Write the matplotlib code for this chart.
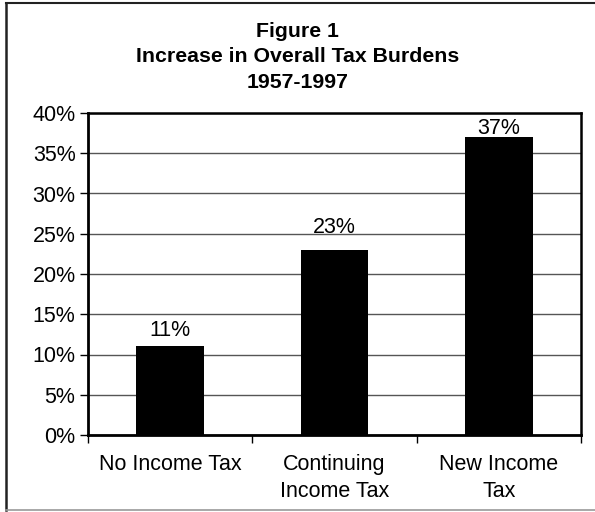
import matplotlib.pyplot as plt
from matplotlib.lines import Line2D

plt.rcParams['font.family'] = ['Liberation Sans', 'DejaVu Sans']

categories = ['No Income Tax', 'Continuing\nIncome Tax', 'New Income\nTax']
increase = [11, 23, 37]
y_ticks = [0, 5, 10, 15, 20, 25, 30, 35, 40]

# gap (px) between bar top and its value label
label_gap = [10, 17, 3]

W, H = 595, 512
fig = plt.figure(figsize=(W / 100, H / 100), dpi=100)
fs = 15.5

# plot area in pixel terms
left, right, top, bottom = 88, 581, 113, 435
ax = fig.add_axes([left / W, 1 - bottom / H, (right - left) / W, (bottom - top) / H])

x = range(len(categories))
ax.bar(x, increase, width=0.41, color='black', zorder=3)
for xi, v, g in zip(x, increase, label_gap):
    ax.annotate(f'{v}%', (xi, v), xytext=(0, g), textcoords='offset pixels',
                ha='center', va='baseline', fontsize=fs, zorder=4)

ax.set_xlim(-0.5, len(categories) - 0.5)
ax.set_ylim(0, 40)
ax.set_yticks(y_ticks)
ax.set_yticklabels([f'{t}%' for t in y_ticks], fontsize=fs)
ax.yaxis.grid(True, color='#555555', linewidth=1, zorder=0)

# category labels between boundary ticks
ax.set_xticks([-0.5, 0.5, 1.5, 2.5])
ax.set_xticklabels([])
ax.set_xticks(list(x), minor=True)
ax.set_xticklabels(categories, minor=True, fontsize=fs, linespacing=1.35)
ax.tick_params(axis='x', which='minor', length=0, pad=14)
ax.tick_params(axis='x', which='major', length=6, width=1, direction='out')
ax.tick_params(axis='y', length=6, width=1, direction='out', pad=3)

for s in ['left', 'bottom']:
    ax.spines[s].set_linewidth(2)
for s in ['top', 'right']:
    ax.spines[s].set_linewidth(1.8)

fig.text(0.5, 1 - 57 / H, 'Figure 1\nIncrease in Overall Tax Burdens\n1957-1997',
         ha='center', va='center', fontsize=15.3, fontweight='bold', linespacing=1.42)

# outer frame
fig.add_artist(Line2D([6 / W, 1], [1 - 3 / H, 1 - 3 / H], color='#222222', lw=1.5))
fig.add_artist(Line2D([6 / W, 6 / W], [1 - 3 / H, 1 - 510 / H], color='#222222', lw=1.8))
fig.add_artist(Line2D([6 / W, 1], [1 - 510 / H, 1 - 510 / H], color='#999999', lw=1.2))

fig.savefig('out.png', dpi=100)
